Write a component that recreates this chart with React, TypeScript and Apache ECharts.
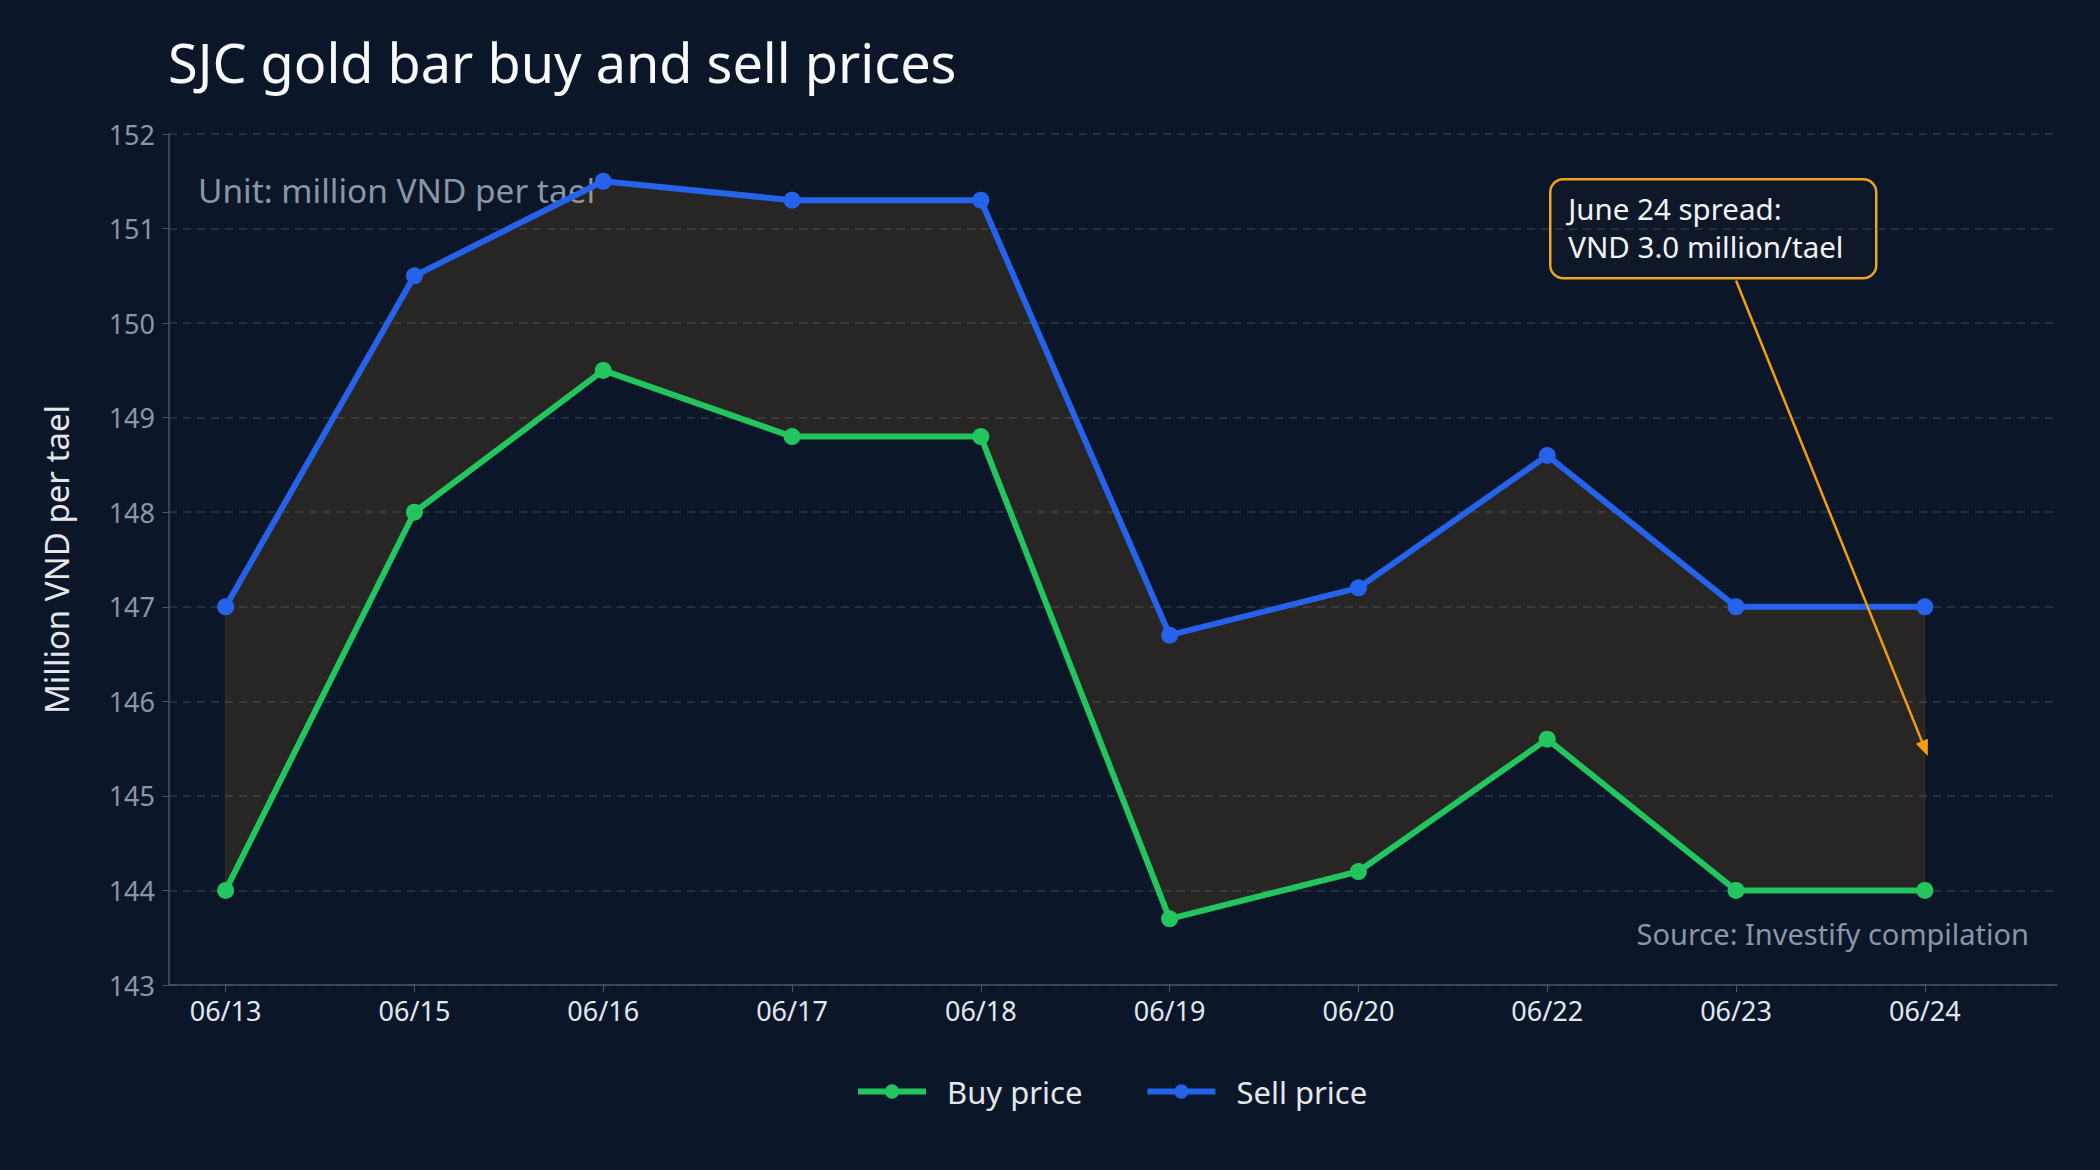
import { useEffect, useRef } from 'react'
import * as echarts from 'echarts'

const DATES = ['06/13', '06/15', '06/16', '06/17', '06/18', '06/19', '06/20', '06/22', '06/23', '06/24']
const BUY = [144, 148, 149.5, 148.8, 148.8, 143.7, 144.2, 145.6, 144, 144]
const SELL = [147, 150.5, 151.5, 151.3, 151.3, 146.7, 147.2, 148.6, 147, 147]
const Y_TICKS = [143, 152]
const NOTE_LINES = ['June 24 spread:', 'VND 3.0 million/tael']
// annotation arrow, in data units (x = date index)
const ARROW_FROM = [8, 150.45]
const ARROW_TO = [9, 145.5]

const BG = '#0b1628'
const GREEN = '#22c55e'
const BLUE = '#2563eb'
const ORANGE = '#f59e0b'
const FONT = '"Noto Sans", "Open Sans", sans-serif'

export default function App() {
  const chartRef = useRef<HTMLDivElement>(null)

  useEffect(() => {
    if (!chartRef.current) return
    const chart = echarts.init(chartRef.current, null, { renderer: 'svg' })

    const idx = DATES.map((_, i) => i)

    const option: echarts.EChartsOption = {
      animation: false,
      backgroundColor: BG,
      textStyle: { fontFamily: FONT },
      title: {
        text: 'SJC gold bar buy and sell prices',
        left: 168,
        top: 35,
        padding: 0,
        textStyle: { color: '#f8fafc', fontSize: 54, fontWeight: 'normal', fontFamily: FONT }
      },
      grid: { left: 169, right: 43, top: 134, bottom: 185 },
      legend: {
        data: ['Buy price', 'Sell price'],
        bottom: 58,
        left: 850,
        itemWidth: 68,
        itemHeight: 18,
        itemGap: 62,
        lineStyle: { width: 6 },
        textStyle: { color: '#e5e7eb', fontSize: 31, fontFamily: FONT, padding: [0, 0, 0, 16] }
      },
      xAxis: {
        type: 'value',
        min: -0.3,
        max: 9.7,
        axisLine: { onZero: false, lineStyle: { color: '#4b5566', width: 1.5 } },
        axisTick: { show: true, length: 7, customValues: idx, lineStyle: { color: '#4b5566' } },
        axisLabel: {
          customValues: idx,
          formatter: (v: number) => DATES[Math.round(v)] ?? '',
          color: '#e2e8f0',
          fontSize: 27,
          margin: 12,
          fontFamily: FONT
        },
        splitLine: { show: false }
      },
      yAxis: {
        type: 'value',
        min: Y_TICKS[0],
        max: Y_TICKS[1],
        interval: 1,
        name: 'Million VND per tael',
        nameLocation: 'middle',
        nameRotate: 90,
        nameGap: 96,
        nameTextStyle: { color: '#e5e7eb', fontSize: 33, fontFamily: FONT },
        axisLine: { show: true, onZero: false, lineStyle: { color: '#4b5566', width: 1.5 } },
        axisTick: { show: true, length: 7, lineStyle: { color: '#4b5566' } },
        axisLabel: { color: '#8b95a7', fontSize: 27, margin: 14, fontFamily: FONT },
        splitLine: { show: true, lineStyle: { color: '#2c3749', type: [8, 6], width: 1.5 } }
      },
      series: [
        {
          name: 'Spread',
          type: 'custom',
          z: 1,
          silent: true,
          clip: false,
          data: [[0, SELL[0]]],
          renderItem: (_params: any, api: any) => {
            const top = SELL.map((v, i) => api.coord([i, v]))
            const bottom = BUY.map((v, i) => api.coord([i, v])).reverse()
            return {
              type: 'polygon',
              shape: { points: top.concat(bottom) },
              style: { fill: 'rgba(245,158,11,0.12)', stroke: 'rgba(245,158,11,0.15)', lineWidth: 1 }
            }
          }
        },
        {
          name: 'Buy price',
          type: 'line',
          z: 3,
          data: BUY.map((v, i) => [i, v]),
          symbol: 'circle',
          symbolSize: 17,
          itemStyle: { color: GREEN },
          lineStyle: { color: GREEN, width: 6 }
        },
        {
          name: 'Sell price',
          type: 'line',
          z: 4,
          data: SELL.map((v, i) => [i, v]),
          symbol: 'circle',
          symbolSize: 17,
          itemStyle: { color: BLUE },
          lineStyle: { color: BLUE, width: 6 },
          markLine: {
            silent: true,
            symbol: ['none', 'triangle'],
            symbolSize: [13, 16],
            label: { show: false },
            lineStyle: { color: ORANGE, width: 2.5, type: 'solid' },
            data: [[{ coord: ARROW_FROM }, { coord: ARROW_TO }]] as any
          }
        }
      ],
      graphic: [
        {
          type: 'text',
          left: 198,
          top: 173,
          style: {
            text: 'Unit: million VND per tael',
            fill: '#8b95a7',
            fontSize: 33.4,
            fontFamily: FONT
          }
        },
        {
          type: 'text',
          right: 71,
          top: 919,
          style: {
            text: 'Source: Investify compilation',
            fill: '#8b95a7',
            fontSize: 29,
            fontFamily: FONT
          }
        },
        {
          type: 'group',
          left: 1549,
          top: 178,
          z: 10,
          children: [
            {
              type: 'rect',
              shape: { x: 0, y: 0, width: 326, height: 99, r: 13 },
              style: { fill: '#0f1828', stroke: '#f0a51e', lineWidth: 2.5 }
            },
            ...NOTE_LINES.map((line, i) => ({
              type: 'text' as const,
              x: 18,
              y: 29 + i * 38,
              style: {
                text: line,
                fill: '#f1f5f9',
                fontSize: 29.5,
                verticalAlign: 'middle' as const,
                fontFamily: FONT
              }
            }))
          ]
        }
      ]
    }

    chart.setOption(option)

    return () => {
      chart.dispose()
    }
  }, [])

  return (
    <div
      ref={chartRef}
      style={{ position: 'fixed', left: 0, top: 0, width: 2100, height: 1170 }}
    />
  )
}
